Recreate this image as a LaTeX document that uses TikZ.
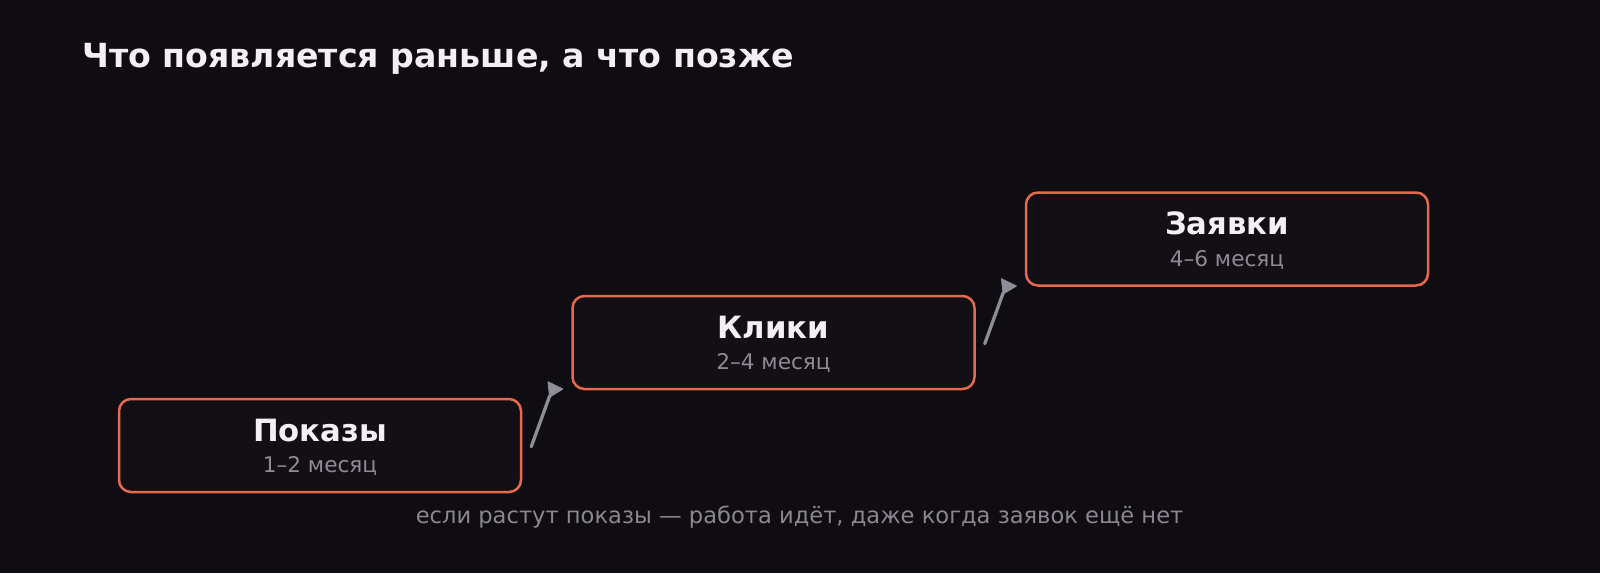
\documentclass[tikz,border=0pt]{standalone}
\usepackage{fontspec}
\setmainfont{DejaVu Sans}
\usetikzlibrary{calc}
\definecolor{bgc}{HTML}{0F0D12}
\definecolor{boxfill}{HTML}{120F15}
\definecolor{boxline}{HTML}{E6694C}
\definecolor{titlec}{HTML}{F2F0F5}
\definecolor{subc}{HTML}{8F8B95}
\definecolor{capc}{HTML}{8A8790}
\definecolor{arrc}{HTML}{8E8C96}
\tikzset{
  stagebox/.style={draw=boxline, line width=2.5pt, fill=boxfill, rounded corners=12pt,
    minimum width=402pt, minimum height=93pt, inner sep=0pt},
  stagelabel/.style={anchor=base, inner sep=0pt, text=titlec, font=\fontsize{30.7}{36}\selectfont\bfseries},
  stagesub/.style={anchor=base, inner sep=0pt, text=subc, font=\fontsize{21.6}{25}\selectfont},
  arrline/.style={draw=arrc, line width=3.3pt, line cap=round},
  arrhead/.style={fill=arrc, draw=arrc, line width=0.8pt, line join=round},
}
\begin{document}
\begin{tikzpicture}[x=1pt,y=-1pt]
\fill[bgc] (0,0) rectangle (1600,573);
\useasboundingbox (0,0) rectangle (1600,573);

\node[anchor=base west, inner sep=0pt, text=titlec, font=\fontsize{33.2}{40}\selectfont\bfseries]
  (title) at (82,67.3) {Что появляется раньше, а что позже};

\node[stagebox] (b1) at (320,445.5) {};
\node[stagebox] (b2) at (773.5,342.5) {};
\node[stagebox] (b3) at (1227,239) {};

\foreach \b/\t/\s in {b1/Показы/1–2 месяц, b2/Клики/2–4 месяц, b3/Заявки/4–6 месяц}{
  \node[stagelabel] (\b-t) at ($(\b.north)+(0,43.7)$) {\t};
  \node[stagesub] (\b-s) at ($(\b.north)+(0,75)$) {\s};
}

\foreach \f/\g in {b1/b2, b2/b3}{
  \coordinate (\f-as) at ($(\f.east)+(9,1.2)$);
  \coordinate (\f-ae) at ($(\f-as)+(18.5,-51)$);
  \draw[arrline] (\f-as) -- (\f-ae);
  \filldraw[arrhead] ($(\f-as)+(16.7,-65)$) -- ($(\f-as)+(31.7,-57.7)$) -- ($(\f-as)+(18.3,-49.5)$) -- cycle;
}

\node[anchor=base, inner sep=0pt, text=capc, font=\fontsize{22.6}{28}\selectfont]
  (cap) at (799.5,523.3) {если растут показы — работа идёт, даже когда заявок ещё нет};
\end{tikzpicture}
\end{document}
